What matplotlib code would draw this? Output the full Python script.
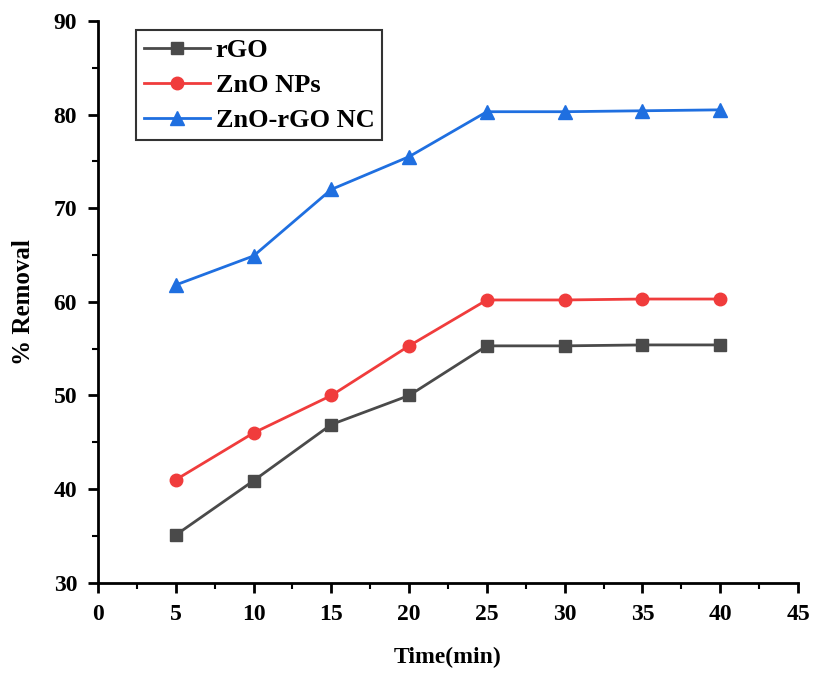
import matplotlib
matplotlib.use('Agg')
import matplotlib.pyplot as plt
from matplotlib.ticker import MultipleLocator

time_min = [5, 10, 15, 20, 25, 30, 35, 40]
rgo = [35.1, 40.9, 46.9, 50.0, 55.3, 55.3, 55.4, 55.4]
zno_nps = [41.0, 46.0, 50.0, 55.3, 60.2, 60.2, 60.3, 60.3]
zno_rgo_nc = [61.8, 64.9, 72.0, 75.5, 80.3, 80.3, 80.4, 80.5]

plt.rcParams['font.family'] = ['Liberation Serif', 'DejaVu Serif']
plt.rcParams['font.weight'] = 'bold'

fig = plt.figure(figsize=(8.16, 6.73), dpi=100)
ax = fig.add_axes([0.120, 0.134, 0.858, 0.835])

ax.plot(time_min, rgo, color='#4a4a4a', marker='s', markersize=9, lw=2, label='rGO')
ax.plot(time_min, zno_nps, color='#f03c3c', marker='o', markersize=9, lw=2, label='ZnO NPs')
ax.plot(time_min, zno_rgo_nc, color='#1f6fe0', marker='^', markersize=10, lw=2, label='ZnO-rGO NC')

ax.set_xlim(0, 45)
ax.set_ylim(30, 90)
ax.xaxis.set_major_locator(MultipleLocator(5))
ax.xaxis.set_minor_locator(MultipleLocator(2.5))
ax.yaxis.set_major_locator(MultipleLocator(10))
ax.yaxis.set_minor_locator(MultipleLocator(5))

for side in ['top', 'right']:
    ax.spines[side].set_visible(False)
for side in ['left', 'bottom']:
    ax.spines[side].set_linewidth(2)

ax.tick_params(which='major', direction='out', length=7, width=2, labelsize=17, pad=8)
ax.tick_params(which='minor', direction='out', length=4, width=1.5)
for lab in ax.get_xticklabels() + ax.get_yticklabels():
    lab.set_fontweight('bold')

ax.set_xlabel('Time(min)', fontsize=17, fontweight='bold', labelpad=16)
ax.set_ylabel('% Removal', fontsize=18, fontweight='bold', labelpad=13)

leg = ax.legend(loc='upper left', bbox_to_anchor=(0.055, 0.983), borderaxespad=0,
                fancybox=False, edgecolor='black', handlelength=2.5, borderpad=0.3,
                labelspacing=0.45, handletextpad=0.2,
                prop={'weight': 'bold', 'size': 19})
leg.get_frame().set_linewidth(1.5)

fig.savefig('out.png', dpi=100)
